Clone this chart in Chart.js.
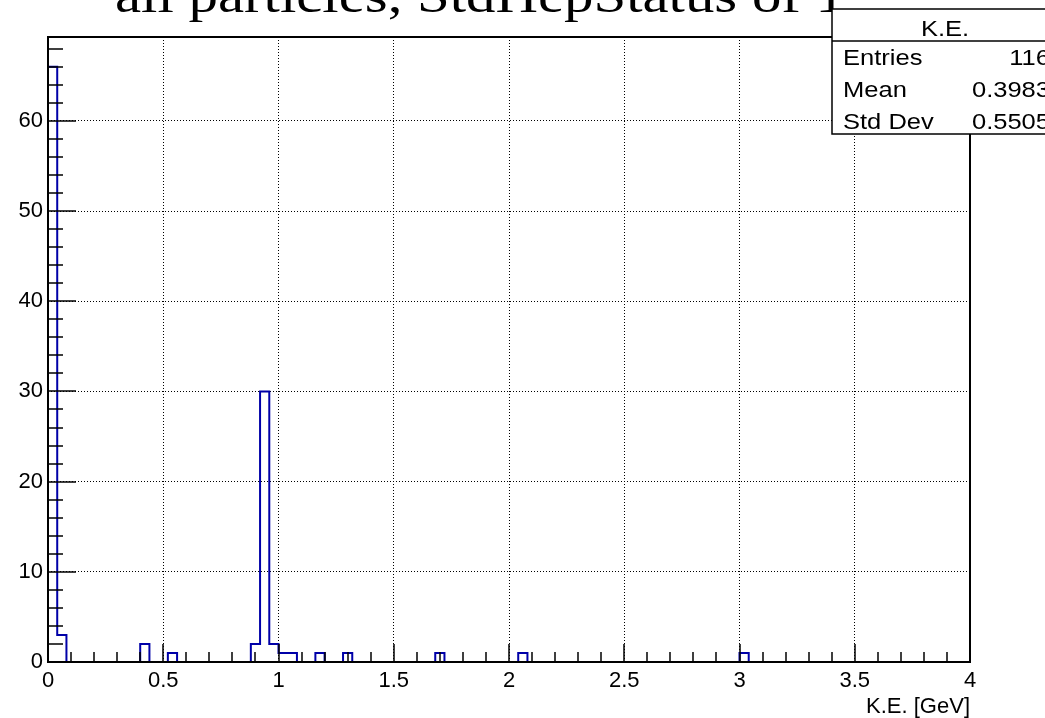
<!DOCTYPE html>
<html>
<head>
<meta charset="utf-8">
<script src="https://cdn.jsdelivr.net/npm/chart.js@4.4.1/dist/chart.umd.min.js"></script>
<style>
  html, body { margin: 0; padding: 0; background: #fff; }
  canvas { display: block; }
</style>
</head>
<body>
<canvas id="mycanvas" width="1045" height="718"></canvas>
<script>
// non-empty bins of the K.E. histogram, bin width 0.04 GeV
var binLow = [0.00, 0.04, 0.40, 0.52, 0.88, 0.92, 0.96, 1.00, 1.04, 1.16, 1.28, 1.68, 2.04, 3.00];
var binCounts = [66, 3, 2, 1, 2, 30, 2, 1, 1, 1, 1, 1, 1, 1];
var binWidth = 0.04;

var xTicks = [0, 0.5, 1, 1.5, 2, 2.5, 3, 3.5, 4];
var xTickLabels = ['0', '0.5', '1', '1.5', '2', '2.5', '3', '3.5', '4'];
var yTicks = [0, 10, 20, 30, 40, 50, 60];
var yTickLabels = ['0', '10', '20', '30', '40', '50', '60'];

var histTitle = 'all particles, StdHepStatus of 1';
var statsName = 'K.E.';
var statNames = ['Entries', 'Mean', 'Std Dev'];
var statValues = ['116', '0.3983', '0.5505'];

// step outline: value holds from the low edge, drops to 0 after a gap
var points = [];
for (var i = 0; i < binLow.length; i++) {
  var hi = +(binLow[i] + binWidth).toFixed(2);
  points.push({x: binLow[i], y: binCounts[i]});
  if (i === binLow.length - 1 || binLow[i + 1] !== hi) {
    points.push({x: hi, y: 0});
  }
}

var sans = 'Liberation Sans, Arial, Helvetica, sans-serif';

function stretchText(ctx, txt, x, y, align, sx) {
  ctx.save();
  ctx.translate(x, y);
  ctx.scale(sx, 1);
  ctx.textAlign = align;
  ctx.fillText(txt, 0, 0);
  ctx.restore();
}

var rootFrame = {
  id: 'rootFrame',
  beforeDraw: function(chart) {
    var ctx = chart.ctx;
    ctx.save();
    ctx.fillStyle = '#fff';
    ctx.fillRect(0, 0, chart.width, chart.height);
    ctx.restore();
  },
  afterDatasetsDraw: function(chart) {
    var ctx = chart.ctx, a = chart.chartArea;
    var xs = chart.scales.x, ys = chart.scales.y;
    ctx.save();
    ctx.strokeStyle = '#000';
    ctx.lineWidth = 1.5;
    ctx.beginPath();
    // inner ticks, 5 minor divisions per major
    for (var k = 0; k <= 40; k++) {
      var px = Math.round(xs.getPixelForValue(k / 10));
      var len = k % 5 === 0 ? 18 : 10;
      ctx.moveTo(px, a.bottom);
      ctx.lineTo(px, a.bottom - len);
    }
    for (var m = 0; m <= 34; m++) {
      var py = Math.round(ys.getPixelForValue(m * 2));
      var l2 = m % 5 === 0 ? 28 : 15;
      ctx.moveTo(a.left, py);
      ctx.lineTo(a.left + l2, py);
    }
    ctx.stroke();
    ctx.lineWidth = 2;
    ctx.strokeRect(a.left, a.top, a.right - a.left, a.bottom - a.top);
    ctx.restore();
  },
  afterDraw: function(chart) {
    var ctx = chart.ctx;
    ctx.save();
    ctx.fillStyle = '#000';

    // title, mostly above the canvas
    ctx.font = '49px "Liberation Serif", "Times New Roman", serif';
    ctx.textBaseline = 'alphabetic';
    stretchText(ctx, histTitle, 480, 12, 'center', 1.2);

    // stats box
    var bx = 832, by = 9, bw = 240, bh = 125;
    ctx.fillStyle = '#fff';
    ctx.fillRect(bx, by, bw, bh);
    ctx.strokeStyle = '#000';
    ctx.lineWidth = 1.5;
    ctx.strokeRect(bx, by, bw, bh);
    ctx.beginPath();
    ctx.moveTo(bx, 41);
    ctx.lineTo(bx + bw, 41);
    ctx.stroke();

    ctx.fillStyle = '#000';
    ctx.font = '22px ' + sans;
    stretchText(ctx, statsName, 945, 36, 'center', 1.16);
    var rows = [65, 97, 129];
    for (var r = 0; r < statNames.length; r++) {
      stretchText(ctx, statNames[r], 843, rows[r], 'left', 1.16);
      stretchText(ctx, statValues[r], 1050, rows[r], 'right', 1.16);
    }
    ctx.restore();
  }
};

var ctx = document.getElementById('mycanvas');

var histChart = new Chart(ctx, {
  type: 'line',
  data: {
    datasets: [{
      label: 'K.E.',
      data: points,
      stepped: 'before',
      borderColor: '#0000a8',
      borderWidth: 2,
      pointRadius: 0,
      fill: false
    }]
  },
  options: {
    responsive: false,
    animation: false,
    devicePixelRatio: 1,
    events: [],
    layout: { padding: { top: 37, right: 75, left: 0, bottom: 0 } },
    plugins: {
      legend: { display: false },
      title: { display: false },
      tooltip: { enabled: false }
    },
    scales: {
      x: {
        type: 'linear',
        min: 0,
        max: 4,
        afterBuildTicks: function(s) {
          s.ticks = xTicks.map(function(v) { return {value: v}; });
        },
        afterFit: function(s) { s.height = 56; },
        grid: {
          color: function(c) {
            return (c.tick && c.tick.value > 0 && c.tick.value < 4) ? '#000' : 'rgba(0,0,0,0)';
          },
          lineWidth: 1,
          drawTicks: false
        },
        border: { display: false, dash: [1, 2] },
        ticks: {
          autoSkip: false,
          maxRotation: 0,
          padding: 6,
          color: '#000',
          font: { family: sans, size: 22 },
          callback: function(v, i) { return xTickLabels[i]; }
        },
        title: {
          display: true,
          text: 'K.E. [GeV]',
          align: 'end',
          color: '#000',
          font: { family: sans, size: 22, lineHeight: 1 },
          padding: { top: 0, bottom: 0 }
        }
      },
      y: {
        type: 'linear',
        min: 0,
        max: 69.3,
        afterBuildTicks: function(s) {
          s.ticks = yTicks.map(function(v) { return {value: v}; });
        },
        afterFit: function(s) { s.width = 48; },
        grid: {
          color: function(c) {
            return (c.tick && c.tick.value > 0) ? '#000' : 'rgba(0,0,0,0)';
          },
          lineWidth: 1,
          drawTicks: false
        },
        border: { display: false, dash: [1, 2] },
        ticks: {
          autoSkip: false,
          padding: 5,
          color: '#000',
          font: { family: sans, size: 22 },
          callback: function(v, i) { return yTickLabels[i]; }
        }
      }
    }
  },
  plugins: [rootFrame]
});
</script>
</body>
</html>
